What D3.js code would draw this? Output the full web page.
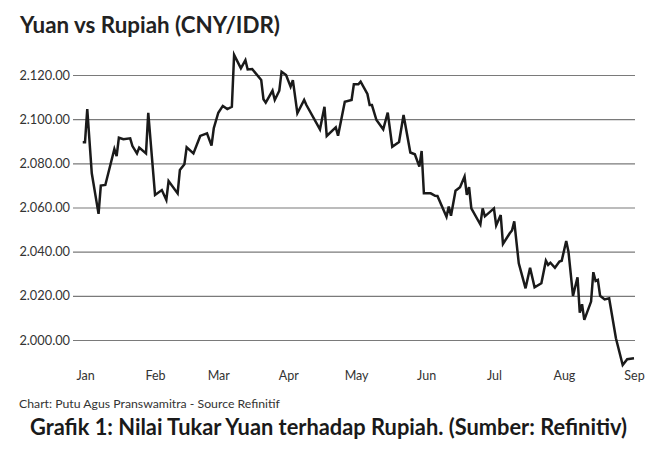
<!DOCTYPE html>
<html>
<head>
<meta charset="utf-8">
<script src="https://cdn.jsdelivr.net/npm/d3@7"></script>
<style>
  html, body { margin: 0; padding: 0; background: #fff; }
</style>
</head>
<body>
<svg id="chart"></svg>
<script>
// CNY/IDR daily close (dates of turning points)
const dates = [
  "2018-12-31","2019-01-01","2019-01-02","2019-01-04","2019-01-07","2019-01-08","2019-01-10","2019-01-14","2019-01-15","2019-01-16",
  "2019-01-18","2019-01-21","2019-01-22","2019-01-24","2019-01-25","2019-01-28","2019-01-29","2019-02-01","2019-02-04","2019-02-06",
  "2019-02-07","2019-02-11","2019-02-12","2019-02-14","2019-02-15","2019-02-18","2019-02-21","2019-02-24","2019-02-26","2019-02-27",
  "2019-03-01","2019-03-03","2019-03-05","2019-03-07","2019-03-08","2019-03-11","2019-03-13","2019-03-14","2019-03-16","2019-03-20",
  "2019-03-21","2019-03-22","2019-03-25","2019-03-26","2019-03-28","2019-03-29","2019-03-31","2019-04-02","2019-04-03","2019-04-05",
  "2019-04-08","2019-04-09","2019-04-15","2019-04-17","2019-04-18","2019-04-22","2019-04-23","2019-04-26","2019-04-29","2019-04-30",
  "2019-05-02","2019-05-03","2019-05-06","2019-05-07","2019-05-08","2019-05-10","2019-05-13","2019-05-15","2019-05-17","2019-05-20",
  "2019-05-22","2019-05-25","2019-05-27","2019-05-29","2019-05-30","2019-05-31","2019-06-03","2019-06-05","2019-06-06","2019-06-10",
  "2019-06-11","2019-06-12","2019-06-14","2019-06-16","2019-06-18","2019-06-19","2019-06-20","2019-06-21","2019-06-25","2019-06-26",
  "2019-06-27","2019-07-01","2019-07-02","2019-07-04","2019-07-05","2019-07-08","2019-07-09","2019-07-10","2019-07-12","2019-07-15",
  "2019-07-17","2019-07-19","2019-07-22","2019-07-24","2019-07-25","2019-07-26","2019-07-28","2019-07-30","2019-07-31","2019-08-02",
  "2019-08-03","2019-08-05","2019-08-07","2019-08-08","2019-08-09","2019-08-10","2019-08-13","2019-08-14","2019-08-15","2019-08-16",
  "2019-08-17","2019-08-19","2019-08-21","2019-08-24","2019-08-27","2019-08-29","2019-09-01"
];
const values = [
  2089.5, 2089.5, 2104.6, 2075.5, 2057.1, 2069.9, 2070.2, 2086.5, 2083.3, 2091.6,
  2090.9, 2091.3, 2087.8, 2084.5, 2087.1, 2084.5, 2102.9, 2065.7, 2067.9, 2063.4,
  2072.0, 2066.4, 2077.0, 2079.6, 2087.3, 2084.5, 2092.4, 2093.6, 2088.0, 2095.9,
  2102.9, 2106.0, 2104.6, 2105.6, 2129.1, 2123.0, 2126.7, 2122.5, 2122.7, 2117.7,
  2109.0, 2107.5, 2112.9, 2108.7, 2112.9, 2121.5, 2120.0, 2114.7, 2117.7, 2102.7,
  2108.7, 2106.4, 2095.4, 2105.6, 2092.4, 2096.3, 2092.5, 2107.9, 2108.7, 2115.8,
  2115.8, 2117.0, 2111.4, 2106.4, 2106.4, 2099.6, 2095.4, 2103.0, 2087.5, 2089.7,
  2101.9, 2084.9, 2084.1, 2078.5, 2085.6, 2066.4, 2066.4, 2065.3, 2065.2, 2055.8,
  2060.4, 2056.3, 2067.6, 2069.2, 2074.0, 2065.7, 2069.2, 2059.6, 2052.3, 2059.6,
  2056.0, 2059.6, 2051.9, 2056.6, 2043.5, 2048.3, 2049.6, 2053.7, 2034.7, 2023.4,
  2032.7, 2023.9, 2025.7, 2035.9, 2034.0, 2035.0, 2032.7, 2035.5, 2035.9, 2044.8,
  2040.0, 2020.0, 2028.4, 2012.4, 2016.2, 2009.1, 2017.4, 2030.7, 2026.7, 2027.2,
  2020.0, 2018.4, 2018.9, 2000.8, 1988.7, 1991.3, 1991.7
];
const yTicks = [2000, 2020, 2040, 2060, 2080, 2100, 2120];
const monthStarts = ["2019-01-01","2019-02-01","2019-03-01","2019-04-01","2019-05-01",
                     "2019-06-01","2019-07-01","2019-08-01","2019-09-01"];

const title = "Yuan vs Rupiah (CNY/IDR)";
const credit = "Chart: Putu Agus Pranswamitra - Source Refinitif";
const caption = "Grafik 1: Nilai Tukar Yuan terhadap Rupiah. (Sumber: Refinitiv)";

const width = 659;
const height = 465;
const font = "Lato, 'Open Sans', sans-serif";

const parse = d3.timeParse("%Y-%m-%d");
const data = dates.map((d, i) => ({ date: parse(d), value: values[i] }));

const x = d3.scaleTime()
  .domain([parse("2019-01-01"), parse("2019-09-01")])
  .range([85, 634]);

const y = d3.scaleLinear()
  .domain([2000, 2120])
  .range([340, 75]);

// Indonesian style: dot as thousands separator, dot as decimal
const idFormat = d3.formatLocale({
  decimal: ".", thousands: ".", grouping: [3], currency: ["", ""]
}).format(",.2f");

const svg = d3.select("#chart")
  .attr("width", width)
  .attr("height", height)
  .style("font-family", font);

svg.append("rect")
  .attr("width", width)
  .attr("height", height)
  .attr("fill", "#fff");

// grid + y labels
const yAxis = svg.append("g")
  .attr("transform", "translate(73,0)")
  .call(d3.axisLeft(y).tickValues(yTicks).tickFormat(idFormat)
    .tickSize(-562).tickPadding(3))
  .call((g) => g.select(".domain").remove());

yAxis.selectAll(".tick line")
  .attr("stroke", "#7a7a7a")
  .attr("stroke-width", 1.2);

yAxis.selectAll(".tick text")
  .attr("fill", "#333")
  .style("font-size", "12.8px")
  .style("font-family", font);

// month labels
const xAxis = svg.append("g")
  .attr("transform", "translate(0,368)")
  .call(d3.axisBottom(x).tickValues(monthStarts.map(parse))
    .tickFormat(d3.timeFormat("%b")).tickSize(0).tickPadding(3))
  .call((g) => g.select(".domain").remove());

xAxis.selectAll(".tick text")
  .attr("fill", "#333")
  .style("font-size", "12.5px")
  .style("font-family", font);

// the line
const line = d3.line()
  .x((d) => x(d.date))
  .y((d) => y(d.value));

svg.append("path")
  .datum(data)
  .attr("fill", "none")
  .attr("stroke", "#1a1a1a")
  .attr("stroke-width", 2.5)
  .attr("stroke-linejoin", "miter")
  .attr("d", line);

// texts, scaled so their width matches the picture
function fitText(sel, target) {
  const len = sel.node().getComputedTextLength();
  const size = parseFloat(sel.style("font-size"));
  sel.style("font-size", (size * target / len).toFixed(2) + "px");
}

const t = svg.append("text")
  .attr("x", 20)
  .attr("y", 33)
  .attr("fill", "#222")
  .style("font-weight", "bold")
  .style("font-size", "22px")
  .text(title);
fitText(t, 260);

const c = svg.append("text")
  .attr("x", 19)
  .attr("y", 408)
  .attr("fill", "#333")
  .style("font-size", "11px")
  .text(credit);
fitText(c, 261);

const g = svg.append("text")
  .attr("x", 30)
  .attr("y", 435)
  .attr("fill", "#1a1a1a")
  .style("font-weight", "bold")
  .style("font-size", "20px")
  .text(caption);
fitText(g, 597);
</script>
</body>
</html>
